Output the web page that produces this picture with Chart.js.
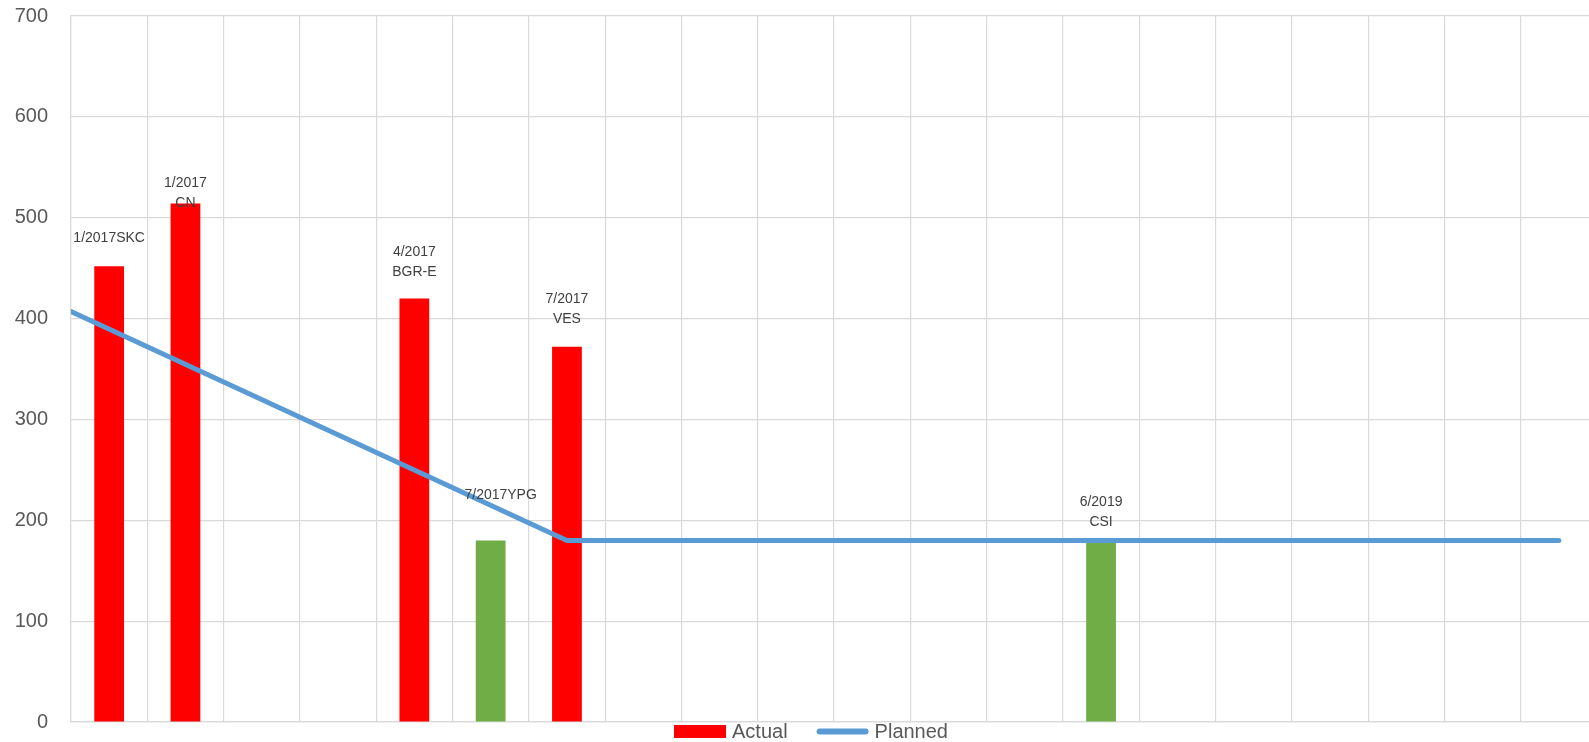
<!DOCTYPE html>
<html>
<head>
<meta charset="utf-8">
<script src="https://cdn.jsdelivr.net/npm/chart.js@4"></script>
<style>
  html, body { margin: 0; padding: 0; background: #ffffff; overflow: hidden; }
  #wrap { width: 1622px; height: 742px; position: relative; }
</style>
</head>
<body>
<div id="wrap"><canvas id="c"></canvas></div>
<script>
// ---- data ----
const categories = ["", "", "", "", "", "", "", "", "", "", "", "", "", "", "", "", "", "", "", ""];
const actualValues = [452, 514, null, null, 420, 180, 372, null, null, null, null, null, null, 180, null, null, null, null, null, null];
const pointLabels = [
  ["1/2017SKC"], ["1/2017", "CN"], null, null, ["4/2017", "BGR-E"], ["7/2017YPG"], ["7/2017", "VES"],
  null, null, null, null, null, null, ["6/2019", "CSI"], null, null, null, null, null, null
];
const plannedX = [-0.5, 6, 19];
const plannedY = [407, 180, 180];
const yTicks = [0, 100, 200, 300, 400, 500, 600, 700];

// ---- styles ----
const RED = "#ff0000", GREEN = "#70ad47", BLUE = "#5b9bd5";
const barColors = [RED, RED, RED, RED, RED, GREEN, RED, RED, RED, RED, RED, RED, RED, GREEN, RED, RED, RED, RED, RED, RED];
// label placement (px above bar top for the last line, px horizontal shift)
const labelLift = [28, 0, 0, 0, 26, 45, 28, 0, 0, 0, 0, 0, 0, 18, 0, 0, 0, 0, 0, 0];
const labelShift = [0, 0, 0, 0, 0, 10, 0, 0, 0, 0, 0, 0, 0, 0, 0, 0, 0, 0, 0, 0];
const FONT = "'Liberation Sans', Arial, sans-serif";

const plannedData = plannedX.map((x, i) => ({ x: x, y: plannedY[i] }));

const labelPlugin = {
  id: "pointLabels",
  afterDatasetsDraw(chart) {
    const meta = chart.getDatasetMeta(0);
    const ctx = chart.ctx;
    ctx.save();
    ctx.font = "14px " + FONT;
    ctx.fillStyle = "#404040";
    ctx.textAlign = "center";
    ctx.textBaseline = "middle";
    meta.data.forEach((el, i) => {
      const lines = pointLabels[i];
      if (!lines || actualValues[i] == null) return;
      const n = lines.length;
      for (let k = 0; k < n; k++) {
        const y = el.y - labelLift[i] - (n - 1 - k) * 20;
        ctx.fillText(lines[k], el.x + labelShift[i], y);
      }
    });
    ctx.restore();
  }
};

const legendPlugin = {
  id: "customLegend",
  afterDraw(chart) {
    const ctx = chart.ctx;
    ctx.save();
    ctx.font = "20px " + FONT;
    ctx.textBaseline = "middle";
    const ds = chart.data.datasets;
    const boxW = 52, gapText = 6, gapItem = 29;
    const widths = ds.map(d => boxW + gapText + ctx.measureText(d.label).width);
    const total = widths.reduce((a, b) => a + b, 0) + gapItem * (ds.length - 1);
    let x = chart.width / 2 - total / 2;
    const cy = 731.5;
    ds.forEach((d, i) => {
      if (d.type === "line") {
        ctx.strokeStyle = d.borderColor;
        ctx.lineWidth = 6;
        ctx.lineCap = "round";
        ctx.beginPath();
        ctx.moveTo(x + 3, cy);
        ctx.lineTo(x + boxW - 3, cy);
        ctx.stroke();
      } else {
        ctx.fillStyle = RED;
        ctx.fillRect(x, cy - 6.5, boxW, 13);
      }
      ctx.fillStyle = "#595959";
      ctx.fillText(d.label, x + boxW + gapText, cy + 1);
      x += widths[i] + gapItem;
    });
    ctx.restore();
  }
};

new Chart(document.getElementById("c"), {
  data: {
    labels: categories,
    datasets: [
      {
        type: "bar",
        label: "Actual",
        data: actualValues,
        backgroundColor: barColors,
        borderWidth: 0,
        barPercentage: 0.39,
        categoryPercentage: 1.0,
        grouped: false,
        order: 2,
        xAxisID: "x",
        yAxisID: "y"
      },
      {
        type: "line",
        label: "Planned",
        data: plannedData,
        borderColor: BLUE,
        backgroundColor: BLUE,
        borderWidth: 5,
        borderCapStyle: "round",
        borderJoinStyle: "round",
        pointRadius: 0,
        tension: 0,
        fill: false,
        order: 1,
        xAxisID: "x2",
        yAxisID: "y"
      }
    ]
  },
  options: {
    responsive: true,
    maintainAspectRatio: false,
    animation: false,
    events: [],
    layout: { padding: { top: 16, right: 25, bottom: 20, left: 0 } },
    plugins: {
      legend: { display: false },
      tooltip: { enabled: false }
    },
    scales: {
      x: {
        type: "category",
        offset: true,
        ticks: { display: false },
        grid: { display: true, color: "#d9d9d9", lineWidth: 1.2, drawTicks: false, offset: true },
        border: { display: true, color: "#d9d9d9", width: 1.2 },
        afterFit(scale) { scale.height = 0; scale.paddingLeft = 0; scale.paddingRight = 0; }
      },
      x2: {
        type: "linear",
        display: false,
        offset: false,
        min: -0.5,
        max: 19.5
      },
      y: {
        type: "linear",
        min: 0,
        max: 700,
        afterBuildTicks(scale) { scale.ticks = yTicks.map(v => ({ value: v })); },
        ticks: {
          color: "#595959",
          font: { size: 20, family: FONT },
          padding: 23
        },
        grid: { color: "#d9d9d9", lineWidth: 1.2, drawTicks: false },
        border: { display: true, color: "#d9d9d9", width: 1.2 },
        afterFit(scale) { scale.width = 71; scale.paddingTop = 0; scale.paddingBottom = 0; }
      }
    }
  },
  plugins: [labelPlugin, legendPlugin]
});
</script>
</body>
</html>
